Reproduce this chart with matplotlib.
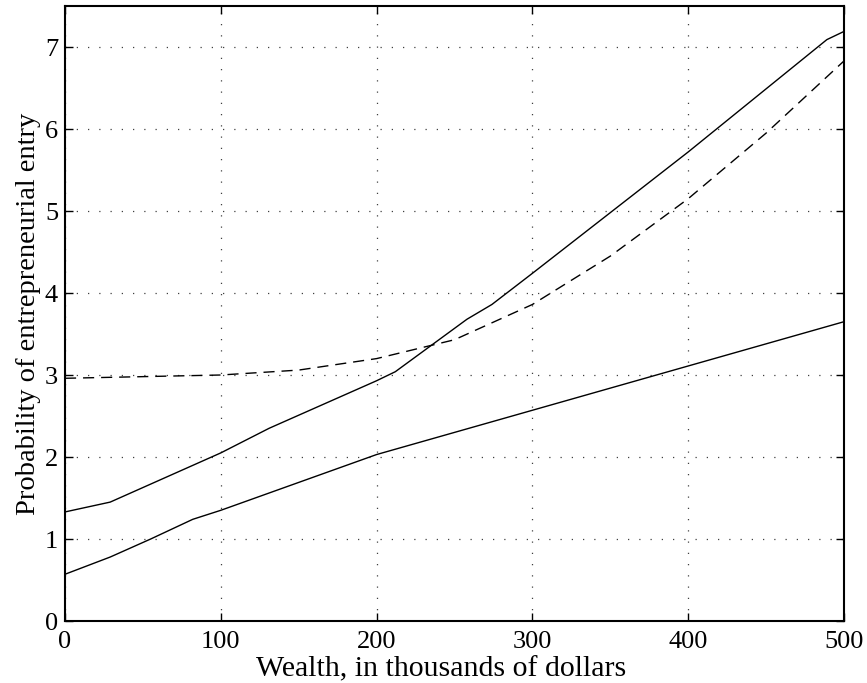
import matplotlib
matplotlib.use("Agg")
import matplotlib.pyplot as plt

# Upper solid line
x_upper = [0, 29, 100, 131, 200, 212, 258, 274, 300, 400, 489, 500]
y_upper = [1.33, 1.45, 2.05, 2.35, 2.93, 3.04, 3.68, 3.86, 4.24, 5.72, 7.09, 7.19]

# Lower solid line
x_lower = [0, 29, 55, 82, 100, 200, 300, 400, 500]
y_lower = [0.57, 0.78, 1.00, 1.24, 1.35, 2.03, 2.57, 3.11, 3.65]

# Dashed line
x_dash = [0, 50, 100, 150, 200, 250, 300, 350, 400, 450, 500]
y_dash = [2.96, 2.98, 3.00, 3.06, 3.20, 3.43, 3.86, 4.45, 5.15, 5.95, 6.83]

x_ticks = [0, 100, 200, 300, 400, 500]
y_ticks = [0, 1, 2, 3, 4, 5, 6, 7]

plt.rcParams['font.family'] = ['Liberation Serif', 'DejaVu Serif']

fig = plt.figure(figsize=(8.67, 6.83), dpi=100)
ax = fig.add_axes([65/867, 62/683, (844-65)/867, (621-6)/683])

ax.plot(x_upper, y_upper, color='black', lw=1.0)
ax.plot(x_lower, y_lower, color='black', lw=1.0)
ax.plot(x_dash, y_dash, color='black', lw=1.0, dashes=(8, 5))

ax.set_xlim(0, 500)
ax.set_ylim(0, 7.5)
ax.set_xticks(x_ticks)
ax.set_yticks(y_ticks)
ax.grid(True, linestyle=(0, (1, 8)), color='0.25', lw=0.9)
ax.tick_params(direction='in', top=True, right=True, length=6, width=1.0,
               labelsize=19)
ax.tick_params(axis='x', pad=7)
ax.tick_params(axis='y', pad=5)
for s in ax.spines.values():
    s.set_linewidth(1.5)

ax.set_xlabel('Wealth, in thousands of dollars', fontsize=21.5)
ax.xaxis.set_label_coords(0.483, -0.058)
ax.set_ylabel('Probability of entrepreneurial entry', fontsize=20.5, labelpad=3)

fig.savefig('out.png', dpi=100)
